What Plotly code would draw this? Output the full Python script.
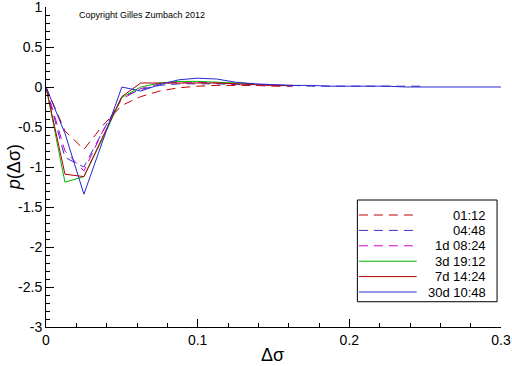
import plotly.graph_objects as go

# ---- data ----
labels = ["01:12", "04:48", "1d 08:24", "3d 19:12", "7d 14:24", "30d 10:48"]
colors = ["#c00000", "#3030c8", "#d000d0", "#00b400", "#b40000", "#2828d0"]
dashes = ["9px,6px", "9px,6px", "9px,6px", "solid", "solid", "solid"]

x_0112 = [0, 0.0125, 0.025, 0.0375, 0.05, 0.0625, 0.075, 0.0875, 0.1, 0.1125, 0.125, 0.1375, 0.15, 0.1625]
y_0112 = [0, -0.55, -0.78, -0.48, -0.23, -0.12, -0.05, -0.01, 0.01, 0.02, 0.02, 0.02, 0.01, 0.01]

x_0448 = [0, 0.0125, 0.025, 0.0375, 0.05, 0.0625, 0.075, 0.0875, 0.1, 0.1125, 0.125, 0.1375, 0.15,
          0.1625, 0.175, 0.1875, 0.2, 0.2125, 0.225, 0.2375, 0.25]
y_0448 = [0, -0.88, -1.00, -0.55, -0.13, -0.03, 0.02, 0.04, 0.04, 0.04, 0.03, 0.03, 0.02,
          0.02, 0.01, 0.01, 0.01, 0.01, 0.01, 0.01, 0.01]

x_1d = [0, 0.0125, 0.025, 0.0375, 0.05, 0.0625, 0.075, 0.0875, 0.1, 0.1125, 0.125, 0.1375, 0.15, 0.1625]
y_1d = [0, -0.80, -1.05, -0.55, -0.15, -0.02, 0.04, 0.06, 0.06, 0.05, 0.04, 0.03, 0.02, 0.01]

x_3d = [0, 0.0125, 0.025, 0.0375, 0.05, 0.0625, 0.075, 0.0875, 0.1, 0.1125, 0.125, 0.1375]
y_3d = [0, -1.19, -1.12, -0.64, -0.13, 0.00, 0.05, 0.07, 0.07, 0.06, 0.05, 0.04]

x_7d = [0, 0.0125, 0.025, 0.0375, 0.05, 0.0625, 0.075, 0.0875, 0.1, 0.1125, 0.125, 0.1375, 0.15, 0.1625]
y_7d = [0, -1.09, -1.12, -0.62, -0.12, 0.05, 0.05, 0.05, 0.05, 0.05, 0.04, 0.03, 0.02, 0.02]

x_30d = [0, 0.0125, 0.025, 0.0375, 0.05, 0.0625, 0.075, 0.0875, 0.1, 0.1125, 0.125, 0.1375, 0.15,
         0.1625, 0.175, 0.1875, 0.2, 0.2125, 0.225, 0.2375, 0.25, 0.2625, 0.275, 0.2875, 0.3]
y_30d = [0, -0.58, -1.34, -0.67, 0.00, -0.05, 0.03, 0.09, 0.11, 0.10, 0.06, 0.04, 0.03,
         0.02, 0.02, 0.01, 0.01, 0.01, 0.01, 0.00, 0.00, 0.00, 0.00, 0.00, 0.00]

xs = [x_0112, x_0448, x_1d, x_3d, x_7d, x_30d]
ys = [y_0112, y_0448, y_1d, y_3d, y_7d, y_30d]

x_ticks = [0, 0.1, 0.2, 0.3]
y_ticks = [1, 0.5, 0, -0.5, -1, -1.5, -2, -2.5, -3]

FONT = "Liberation Sans, Arial, sans-serif"

fig = go.Figure()
for x, y, name, c, d in zip(xs, ys, labels, colors, dashes):
    fig.add_trace(go.Scatter(x=x, y=y, mode="lines", name=name,
                             line=dict(color=c, width=1, dash=d), showlegend=False))

# ---- manual legend (box with right-aligned labels, long line samples) ----
leg_x0, leg_x1 = 0.2053, 0.2974
leg_y0, leg_y1 = -2.684, -1.4125
fig.add_shape(type="rect", xref="x", yref="y", x0=leg_x0, x1=leg_x1, y0=leg_y0, y1=leg_y1,
              line=dict(color="black", width=1), fillcolor="white", layer="above")
row_y = [-1.60, -1.7925, -1.985, -2.1775, -2.37, -2.5625]
for name, c, d, ry in zip(labels, colors, dashes, row_y):
    fig.add_shape(type="line", xref="x", yref="y", x0=0.2063, x1=0.2444, y0=ry, y1=ry,
                  line=dict(color=c, width=1, dash=d), layer="above")
    fig.add_annotation(x=0.2917, y=ry, xref="x", yref="y", text=name, showarrow=False,
                       xanchor="right", yanchor="middle",
                       font=dict(family=FONT, size=13, color="black"))

fig.add_annotation(x=0.0205, y=0.9, xref="x", yref="y", text="Copyright Gilles Zumbach 2012",
                   showarrow=False, xanchor="left", yanchor="middle",
                   font=dict(family=FONT, size=9, color="black"))

# axis titles as annotations (fixed positions, no automargin shifts)
fig.add_annotation(x=0.497, y=-0.088, xref="paper", yref="paper", text="Δσ", showarrow=False,
                   xanchor="center", yanchor="middle", font=dict(family=FONT, size=18, color="black"))
fig.add_annotation(x=-0.07, y=0.5, xref="paper", yref="paper", text="<i>p</i>(Δσ)", showarrow=False,
                   textangle=-90, xanchor="center", yanchor="middle",
                   font=dict(family=FONT, size=18, color="black"))

fig.update_layout(
    width=512, height=366,
    margin=dict(l=46, r=11, t=7, b=39, autoexpand=False),
    paper_bgcolor="white", plot_bgcolor="white",
    font=dict(family=FONT, size=14, color="black"),
    xaxis=dict(range=[0, 0.3], tickvals=x_ticks, ticktext=["0", "0.1", "0.2", "0.3"],
               automargin=False, ticklabeloverflow="allow",
               ticks="inside", ticklen=8, tickcolor="black", showgrid=False, zeroline=False,
               showline=True, linecolor="black", linewidth=1,
               minor=dict(ticks="inside", ticklen=4, dtick=0.02, tickcolor="black", showgrid=False),
               tickfont=dict(size=14)),
    yaxis=dict(range=[-3, 1], tickvals=y_ticks, ticktext=[str(v) for v in y_ticks],
               automargin=False, ticklabeloverflow="allow",
               ticks="inside", ticklen=8, tickcolor="black", showgrid=False, zeroline=False,
               showline=True, linecolor="black", linewidth=1,
               minor=dict(ticks="inside", ticklen=4, dtick=0.1, tickcolor="black", showgrid=False),
               tickfont=dict(size=14)),
)

fig.write_html("out.html", config={"displayModeBar": False},
               post_script="document.body.style.margin='0';document.body.style.padding='0';")
